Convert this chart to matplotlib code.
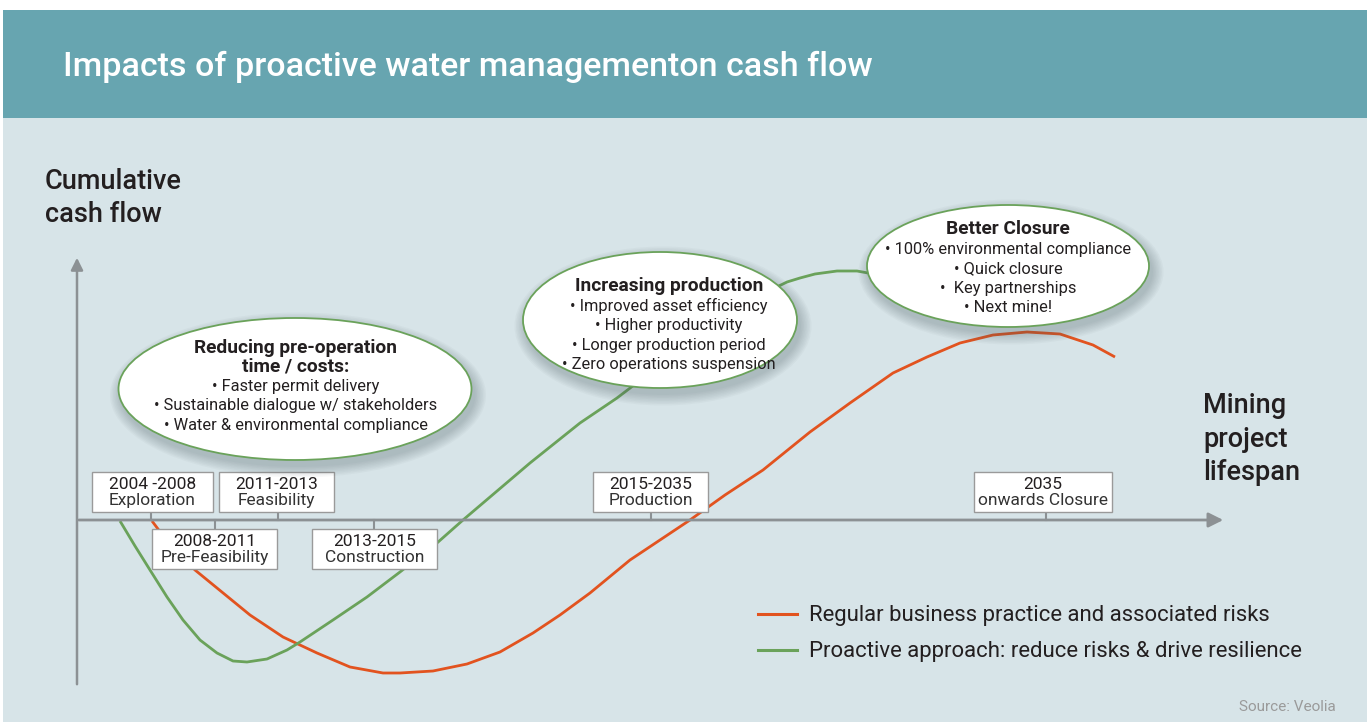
import matplotlib.pyplot as plt
from matplotlib.patches import Rectangle, Ellipse

plt.rcParams['font.family'] = ['Roboto', 'DejaVu Sans']

# curve values (timeline position, cash flow level in px)
regular_x = [152, 170, 195, 217, 250, 283, 317, 350, 383, 400, 433, 467, 500, 533,
             560, 590, 630, 660, 690, 725, 763, 810, 850, 893, 927, 960, 993, 1027,
             1060, 1093, 1115]
regular_y = [521, 545, 570, 588, 615, 637, 653, 667, 673, 673, 671, 664, 652, 633,
             615, 593, 560, 540, 520, 495, 470, 432, 403, 373, 357, 343, 335, 332,
             334, 345, 357]

proactive_x = [120, 135, 150, 167, 183, 200, 217, 233, 247, 267, 287, 300, 333, 367,
               400, 437, 463, 530, 580, 617, 680, 740, 787, 800, 815, 837, 857, 868]
proactive_y = [521, 546, 570, 597, 620, 640, 653, 661, 662, 659, 650, 642, 620, 597,
               572, 543, 520, 463, 423, 398, 350, 305, 282, 278, 274, 271, 271, 273]

phases = ['2004 -2008\nExploration', '2008-2011\nPre-Feasibility', '2011-2013\nFeasibility',
          '2013-2015\nConstruction', '2015-2035\nProduction', '2035\nonwards Closure']
phase_ticks = [151, 215, 278, 374, 651, 1046]
phase_side = ['up', 'down', 'up', 'down', 'up', 'up']
phase_boxes = [(92, 213), (152, 277), (219, 334), (312, 437), (593, 708), (974, 1112)]

bubbles = [
    ['Reducing pre-operation', 'time / costs:'],
    ['Increasing production'],
    ['Better Closure'],
]
bullets = [
    ['• Faster permit delivery', '• Sustainable dialogue w/ stakeholders',
     '• Water & environmental compliance'],
    ['• Improved asset efficiency', '• Higher productivity',
     '• Longer production period', '• Zero operations suspension'],
    ['• 100% environmental compliance', '• Quick closure', '•  Key partnerships',
     '• Next mine!'],
]

legend_labels = ['Regular business practice and associated risks',
                 'Proactive approach: reduce risks & drive resilience']

orange = '#e2531f'
green = '#6aa25a'
axis_gray = '#8c9194'
txt = '#231f20'

fig = plt.figure(figsize=(13.7, 7.25), dpi=100)
ax = fig.add_axes([0, 0, 1, 1])
ax.set_xlim(0, 1370)
ax.set_ylim(725, 0)
ax.axis('off')

# background panels
ax.add_patch(Rectangle((3, 118), 1364, 604, facecolor='#d7e4e8', edgecolor='none', zorder=0))
ax.add_patch(Rectangle((3, 10), 1364, 108, facecolor='#67a5b0', edgecolor='none', zorder=0))
ax.text(63, 67, 'Impacts of proactive water managementon cash flow', color='white',
        fontsize=24.5, fontweight='medium', va='center', ha='left')

# axis labels
ax.text(45, 198, 'Cumulative\ncash flow', fontsize=19.5, fontweight='medium', color=txt,
        va='center', ha='left', linespacing=1.3)
ax.text(1203, 439, 'Mining\nproject\nlifespan', fontsize=19.5, fontweight='medium',
        color=txt, va='center', ha='left', linespacing=1.3)

# curves
ax.plot(regular_x, regular_y, color=orange, lw=2.0, zorder=2, solid_capstyle='butt')
ax.plot(proactive_x, proactive_y, color=green, lw=2.0, zorder=2, solid_capstyle='butt')

# axes arrows
ax.annotate('', xy=(77, 255), xytext=(77, 687),
            arrowprops=dict(arrowstyle='-|>', color=axis_gray, lw=1.8, mutation_scale=18),
            zorder=3)
ax.annotate('', xy=(1226, 520), xytext=(76, 520),
            arrowprops=dict(arrowstyle='-|>', color=axis_gray, lw=2, mutation_scale=22),
            zorder=3)

# phase boxes
for lab, tx, side, (x0, x1) in zip(phases, phase_ticks, phase_side, phase_boxes):
    if side == 'up':
        y0, y1, ty = 472, 512, 512
    else:
        y0, y1, ty = 529, 569, 529
    ax.plot([tx, tx], [520, ty], color=axis_gray, lw=1.5, zorder=3)
    ax.add_patch(Rectangle((x0, y0), x1 - x0, y1 - y0, facecolor='white',
                           edgecolor='#9a9a9a', lw=1, zorder=4))
    top, bottom = lab.split('\n')
    ax.text((x0 + x1) / 2, y0 + 12.5, top, fontsize=12.5, color=txt, ha='center',
            va='center', zorder=5)
    ax.text((x0 + x1) / 2, y0 + 28.5, bottom, fontsize=12.5, color='#333333', ha='center',
            va='center', zorder=5)

# bubbles
ell = [((295, 389), 353, 142, 296, 348),
       ((660, 320), 274, 136, 669, 286),
       ((1008, 266), 282, 122, 1008, 229)]
for (c, w, h, tx, ty0), heads, items in zip(ell, bubbles, bullets):
    for k in range(8):
        ax.add_patch(Ellipse((c[0] + 3, c[1] + 6), w + 2 + 3 * k, h + 2 + 3 * k,
                             facecolor='#4a5a60', edgecolor='none', alpha=0.04, zorder=5))
    ax.add_patch(Ellipse(c, w, h, facecolor='white', edgecolor=green, lw=1.3, zorder=6))
    y = ty0
    for i, line in enumerate(heads):
        ax.text(tx, y, line, fontsize=13.8, fontweight='bold', color=txt, ha='center',
                va='center', zorder=7)
        y += 18 if i < len(heads) - 1 else 20
    for line in items:
        ax.text(tx, y, line, fontsize=11.8, color=txt, ha='center', va='center', zorder=7)
        y += 19.5

# legend
for lab, col, ly in zip(legend_labels, [orange, green], [614, 650]):
    ax.plot([758, 797], [ly, ly], color=col, lw=2.2)
    ax.text(809, ly + 1, lab, fontsize=15.9, color=txt, va='center', ha='left')

ax.text(1336, 707, 'Source: Veolia', fontsize=11, color='#9a9a9a', ha='right', va='center')

fig.savefig('out.png', dpi=100)
